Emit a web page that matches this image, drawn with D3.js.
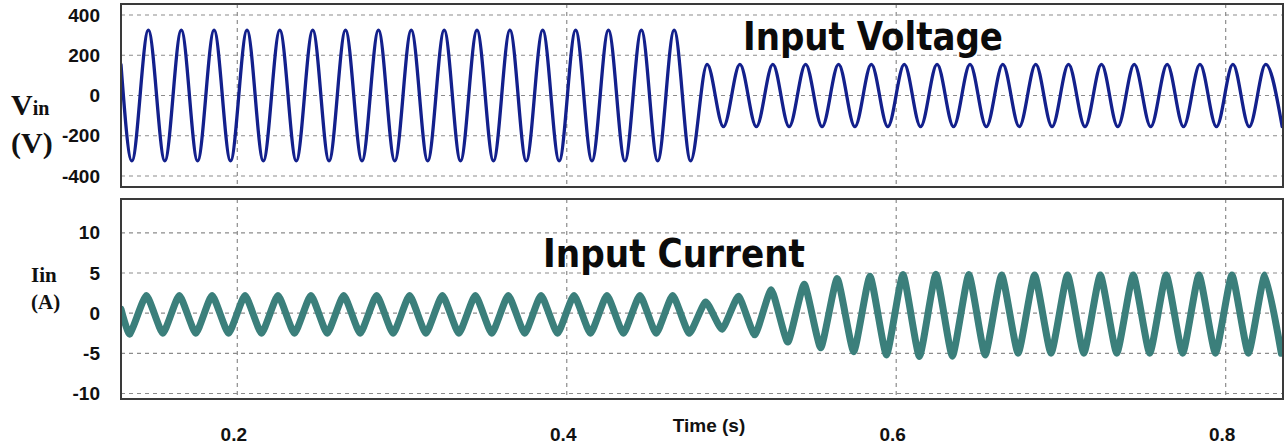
<!DOCTYPE html>
<head>
  <meta charset="utf-8">
  <title>Input Voltage / Input Current</title>
  <script src="https://d3js.org/d3.v7.min.js"></script>
  <style>
    body { margin: 0; background: #fff; }
    .tick text { font-family: "Liberation Sans", Arial, sans-serif; font-weight: bold; font-size: 19px; fill: #111; }
    .grid { stroke: #8c8c8c; stroke-width: 1.2; stroke-dasharray: 4,4; fill: none; }
    .frame { fill: none; stroke: #3a3a3a; stroke-width: 2; }
    .title { font-family: "DejaVu Sans Condensed", "DejaVu Sans", sans-serif; font-weight: bold; font-size: 39px; fill: #0b0b0b; }
    .ylab { font-family: "Liberation Serif", "Times New Roman", serif; font-weight: bold; fill: #111; }
  </style>
</head>
<body>
<svg width="1285" height="448"></svg>
<script>

// Peaks and troughs (time in s, value in V)
var voltT = [0.1294, 0.1360,
  0.1460, 0.1560, 0.1660, 0.1759, 0.1859, 0.1959, 0.2059, 0.2158, 0.2258, 0.2358,
  0.2458, 0.2557, 0.2657, 0.2757, 0.2857, 0.2956, 0.3056, 0.3156, 0.3256, 0.3355,
  0.3455, 0.3555, 0.3655, 0.3754, 0.3854, 0.3954, 0.4054, 0.4153, 0.4253, 0.4353,
  0.4453, 0.4552, 0.4652, 0.4752,
  0.4852, 0.4951, 0.5051, 0.5151, 0.5251, 0.5350, 0.5450, 0.5550, 0.5650, 0.5749,
  0.5849, 0.5949, 0.6049, 0.6148, 0.6248, 0.6348, 0.6448, 0.6547, 0.6647, 0.6747,
  0.6847, 0.6946, 0.7046, 0.7146, 0.7246, 0.7345, 0.7445, 0.7545, 0.7645, 0.7744,
  0.7844, 0.7944, 0.8044, 0.8143, 0.8243, 0.8343];
var voltV = [154, -325,
  325, -325, 325, -325, 325, -325, 325, -325, 325, -325,
  325, -325, 325, -325, 325, -325, 325, -325, 325, -325,
  325, -325, 325, -325, 325, -325, 325, -325, 325, -325,
  325, -325, 325, -325,
  155, -155, 155, -155, 155, -155, 155, -155, 155, -155,
  155, -155, 155, -155, 155, -155, 155, -155, 155, -155,
  155, -155, 155, -155, 155, -155, 155, -155, 155, -155,
  155, -155, 155, -155, 155, -155];

// Peaks and troughs (time in s, value in A)
var currT = [0.1294, 0.1348,
  0.1448, 0.1548, 0.1648, 0.1748, 0.1847, 0.1947, 0.2047, 0.2147, 0.2247, 0.2347,
  0.2447, 0.2546, 0.2646, 0.2746, 0.2846, 0.2946, 0.3046, 0.3145, 0.3245, 0.3345,
  0.3445, 0.3545, 0.3645, 0.3745, 0.3844, 0.3944, 0.4044, 0.4144, 0.4244, 0.4344,
  0.4444, 0.4543, 0.4643, 0.4743,
  0.4843, 0.4943, 0.5043, 0.5142, 0.5242, 0.5342, 0.5442, 0.5542, 0.5642, 0.5742,
  0.5841, 0.5941, 0.6041, 0.6141, 0.6241, 0.6341, 0.6441, 0.6540, 0.6640, 0.6740,
  0.6840, 0.6940, 0.7040, 0.7139, 0.7239, 0.7339, 0.7439, 0.7539, 0.7639, 0.7739,
  0.7838, 0.7938, 0.8038, 0.8138, 0.8238, 0.8338];
var currV = [0.5, -2.6,
  2.2, -2.5, 2.2, -2.5, 2.2, -2.5, 2.2, -2.5, 2.2, -2.5,
  2.2, -2.5, 2.2, -2.5, 2.2, -2.5, 2.2, -2.5, 2.2, -2.5,
  2.2, -2.5, 2.2, -2.5, 2.2, -2.5, 2.2, -2.5, 2.2, -2.5,
  2.2, -2.5, 2.2, -2.5,
  1.4, -2.0, 2.1, -2.7, 2.9, -3.6, 3.6, -4.3, 4.3, -4.8,
  4.6, -5.2, 4.8, -5.4, 4.85, -5.35, 4.8, -5.2, 4.75, -5.0,
  4.75, -5.0, 4.75, -5.0, 4.75, -5.0, 4.75, -5.0, 4.75, -5.0,
  4.75, -5.0, 4.75, -5.0, 4.75, -5.0];

var xTicks = [0.2, 0.4, 0.6, 0.8];
var vTicks = [-400, -200, 0, 200, 400];
var iTicks = [-10, -5, 0, 5, 10];

var svg = d3.select("svg");

// panel boxes in pixels
var left = 121, right = 1283;
var top1 = 4, bot1 = 187, top2 = 199, bot2 = 399;

var x = d3.scaleLinear().domain([0.1294, 0.8348]).range([left, right]);
var yV = d3.scaleLinear().domain([-400, 400]).range([176, 15]);
var yI = d3.scaleLinear().domain([-10, 10]).range([393.5, 232.8]);

function panel(id, y, ticks, y0, y1, T, V, color, width, curve) {
  var g = svg.append("g");

  svg.append("clipPath").attr("id", id)
    .append("rect").attr("x", left).attr("y", y0).attr("width", right - left).attr("height", y1 - y0);

  // dashed grid
  g.selectAll(".hg").data(ticks).join("line")
    .attr("class", "grid")
    .attr("x1", left).attr("x2", right)
    .attr("y1", function(d) { return y(d); }).attr("y2", function(d) { return y(d); });
  g.selectAll(".vg").data(xTicks).join("line")
    .attr("class", "grid")
    .attr("x1", function(d) { return x(d); }).attr("x2", function(d) { return x(d); })
    .attr("y1", y0).attr("y2", y1);

  var pts = T.map(function(t, i) { return [t, V[i]]; });
  var line = d3.line()
    .x(function(d) { return x(d[0]); })
    .y(function(d) { return y(d[1]); })
    .curve(curve);

  g.append("path")
    .datum(pts)
    .attr("clip-path", "url(#" + id + ")")
    .attr("fill", "none")
    .attr("stroke", color)
    .attr("stroke-width", width)
    .attr("stroke-linejoin", "round")
    .attr("stroke-linecap", "round")
    .attr("d", line);

  g.append("rect").attr("class", "frame")
    .attr("x", left).attr("y", y0).attr("width", right - left).attr("height", y1 - y0);

  // y tick labels
  var ax = g.append("g")
    .attr("transform", "translate(" + left + ",0)")
    .call(d3.axisLeft(y).tickValues(ticks).tickSize(0).tickPadding(21).tickFormat(function(d) { return String(d); }));
  ax.select(".domain").remove();
}

panel("clipV", yV, vTicks, top1, bot1, voltT, voltV, "#13208c", 3.3, d3.curveMonotoneX);
// the current trace is more pointed than a sine, so use a tighter cardinal spline
panel("clipI", yI, iTicks, top2, bot2, currT, currV, "#3b7f7b", 7, d3.curveCardinal.tension(0.5));

// x tick labels under the lower panel
var xa = svg.append("g")
  .attr("transform", "translate(-4," + bot2 + ")")
  .call(d3.axisBottom(x).tickValues(xTicks).tickSize(0).tickPadding(29).tickFormat(d3.format(".1f")));
xa.select(".domain").remove();

svg.append("text")
  .attr("x", 709).attr("y", 432)
  .attr("text-anchor", "middle")
  .style("font-family", "'Liberation Sans', Arial, sans-serif")
  .style("font-weight", "bold").style("font-size", "19px").style("fill", "#111")
  .text("Time (s)");

// titles inside the panels
svg.append("text").attr("class", "title")
  .attr("x", 743).attr("y", 50)
  .attr("textLength", 260).attr("lengthAdjust", "spacingAndGlyphs")
  .text("Input Voltage");
svg.append("text").attr("class", "title")
  .attr("x", 543).attr("y", 267)
  .attr("textLength", 262).attr("lengthAdjust", "spacingAndGlyphs")
  .text("Input Current");

// y axis names
var vl = svg.append("text").attr("class", "ylab").attr("x", 11).attr("y", 115);
vl.append("tspan").style("font-size", "30px").text("V");
vl.append("tspan").style("font-size", "20px").text("in");
svg.append("text").attr("class", "ylab").attr("x", 11).attr("y", 153)
  .style("font-size", "30px").text("(V)");

svg.append("text").attr("class", "ylab").attr("x", 31).attr("y", 282)
  .style("font-size", "21px").text("Iin");
svg.append("text").attr("class", "ylab").attr("x", 31).attr("y", 309)
  .style("font-size", "21px").text("(A)");

</script>
</body>
</html>
